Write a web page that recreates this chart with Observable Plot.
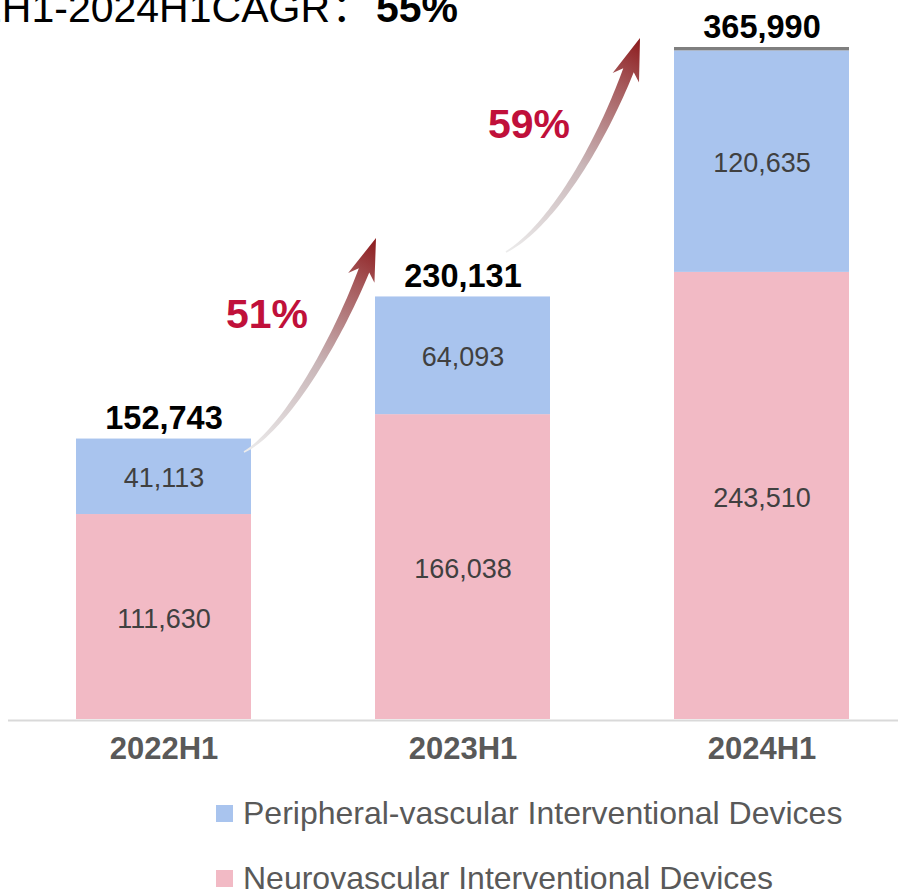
<!DOCTYPE html>
<html><head><meta charset="utf-8">
<script src="https://cdn.jsdelivr.net/npm/d3@7"></script>
<script src="https://cdn.jsdelivr.net/npm/@observablehq/plot@0.6"></script>
<style>
html,body{margin:0;padding:0;background:#fff;overflow:hidden;}
#wrap{position:relative;width:898px;height:894px;overflow:hidden;}
#chart{position:absolute;left:0;top:0;}
.leg{position:absolute;font-family:"Liberation Sans",Arial,sans-serif;font-size:32px;color:#595959;line-height:32px;white-space:nowrap;}
.sw{position:absolute;width:17px;height:17px;}
</style></head><body><div id="wrap"><div id="chart"></div></div>
<script>
// ---- data ----
const categories = ["2022H1", "2023H1", "2024H1"];
const seriesNames = ["Neurovascular Interventional Devices", "Peripheral-vascular Interventional Devices", "Other"];
const neuroValues = [111630, 166038, 243510];
const peripheralValues = [41113, 64093, 120635];
const otherValues = [0, 0, 1845];
const totals = [152743, 230131, 365990];
const growthLabels = ["51%", "59%"];
const cagrText = "2022H1-2024H1CAGR";
const cagrValue = "55%";
const legendOrder = ["Peripheral-vascular Interventional Devices", "Neurovascular Interventional Devices"];

// ---- styles ----
const colors = ["#F2BAC5", "#A9C4EE", "#7F7F7F"];
const font = '"Liberation Sans", Arial, sans-serif';
const fmt = d3.format(",");

const rows = [];
categories.forEach((c, i) => {
  rows.push({category: c, series: seriesNames[0], value: neuroValues[i]});
  rows.push({category: c, series: seriesNames[1], value: peripheralValues[i]});
  rows.push({category: c, series: seriesNames[2], value: otherValues[i]});
});

// arrow geometry (pixel offsets relative to bar corners)
const arrowGeom = [
  {p0: [-7, 13.5], p1: [34, -8.5], p2: [-31, 36.5], p3: [1, -58.5], label: [-109, 90]},
  {p0: [-44, -44.5], p1: [4, -71.5], p2: [-65, 86], p3: [-34, -9], label: [-111, 100]}
];

function decorations(index, scales) {
  const x = scales.x, y = scales.y;
  const bw = x.bandwidth ? x.bandwidth() : 176;
  const g = d3.create("svg:g");
  const defs = g.append("defs");
  arrowGeom.forEach((a, i) => {
    const x0 = x(categories[i]) + bw, y0 = y(totals[i]);
    const x1 = x(categories[i + 1]), y1 = y(totals[i + 1]);
    const P0 = [x0 + a.p0[0], y0 + a.p0[1]];
    const P1 = [x0 + a.p1[0], y0 + a.p1[1]];
    const P2 = [x1 + a.p2[0], y1 + a.p2[1]];
    const P3 = [x1 + a.p3[0], y1 + a.p3[1]];
    const B = t => {
      const u = 1 - t;
      return [u*u*u*P0[0] + 3*u*u*t*P1[0] + 3*u*t*t*P2[0] + t*t*t*P3[0],
              u*u*u*P0[1] + 3*u*u*t*P1[1] + 3*u*t*t*P2[1] + t*t*t*P3[1]];
    };
    const D = t => {
      const u = 1 - t;
      const dx = 3*u*u*(P1[0]-P0[0]) + 6*u*t*(P2[0]-P1[0]) + 3*t*t*(P3[0]-P2[0]);
      const dy = 3*u*u*(P1[1]-P0[1]) + 6*u*t*(P2[1]-P1[1]) + 3*t*t*(P3[1]-P2[1]);
      const l = Math.hypot(dx, dy);
      return [dx / l, dy / l];
    };
    let tEnd = 1;
    for (let t = 1; t > 0; t -= 0.002) {
      const p = B(t);
      if (Math.hypot(p[0] - P3[0], p[1] - P3[1]) >= 34) { tEnd = t; break; }
    }
    const left = [], right = [];
    const N = 50;
    for (let k = 0; k <= N; k++) {
      const t = tEnd * k / N;
      const p = B(t), d = D(t);
      const n = [-d[1], d[0]];
      const w = 0.8 + 4.8 * Math.pow(k / N, 0.9);
      left.push([p[0] + n[0]*w, p[1] + n[1]*w]);
      right.push([p[0] - n[0]*w, p[1] - n[1]*w]);
    }
    const pb = B(tEnd);
    const dd = [P3[0] - pb[0], P3[1] - pb[1]];
    const dl = Math.hypot(dd[0], dd[1]);
    const d = [dd[0]/dl, dd[1]/dl];
    const n = [-d[1], d[0]];
    const barbL = [pb[0] - d[0]*8 + n[0]*14, pb[1] - d[1]*8 + n[1]*14];
    const barbR = [pb[0] - d[0]*8 - n[0]*14, pb[1] - d[1]*8 - n[1]*14];
    const pts = [...left, barbL, P3, barbR, ...right.reverse()];
    const gid = "arrowGrad" + i;
    const lg = defs.append("linearGradient").attr("id", gid)
      .attr("gradientUnits", "userSpaceOnUse")
      .attr("x1", P0[0]).attr("y1", P0[1]).attr("x2", P3[0]).attr("y2", P3[1]);
    lg.append("stop").attr("offset", "0").attr("stop-color", "#ececec");
    lg.append("stop").attr("offset", "0.45").attr("stop-color", "#c9b6b8");
    lg.append("stop").attr("offset", "0.8").attr("stop-color", "#a65a5c");
    lg.append("stop").attr("offset", "1").attr("stop-color", "#8c1a1c");
    g.append("path").attr("d", "M" + pts.map(p => p[0].toFixed(2) + "," + p[1].toFixed(2)).join("L") + "Z")
      .attr("fill", "url(#" + gid + ")");
    g.append("text").attr("x", P3[0] + a.label[0]).attr("y", P3[1] + a.label[1])
      .attr("text-anchor", "middle").attr("font-family", font).attr("font-size", 41)
      .attr("font-weight", "bold").attr("fill", "#C0103A").text(growthLabels[i]);
  });
  // title (partly cut off at the top-left like the reference)
  g.append("text").attr("x", 330).attr("y", 22).attr("text-anchor", "end")
    .attr("font-family", font).attr("font-size", 41).attr("fill", "#000").text(cagrText);
  g.append("text").attr("x", 352).attr("y", 22).attr("text-anchor", "middle")
    .attr("font-family", '"Noto Sans CJK SC", sans-serif').attr("font-size", 41).attr("fill", "#000").text("：");
  g.append("text").attr("x", 376).attr("y", 22).attr("text-anchor", "start")
    .attr("font-family", font).attr("font-size", 41).attr("font-weight", "bold").attr("fill", "#000").text(cagrValue);
  return g.node();
}

const chart = Plot.plot({
  width: 898,
  height: 790,
  marginLeft: 8, marginRight: 0, marginTop: 0, marginBottom: 71,
  style: {fontFamily: font, background: "#fff", overflow: "hidden"},
  x: {domain: categories, range: [13, 913], paddingInner: 0.4133, paddingOuter: 0.2067, axis: null},
  y: {domain: [0, 365990], range: [719, 47], axis: null},
  color: {domain: seriesNames, range: colors},
  marks: [
    Plot.barY(rows, {x: "category", y: "value", fill: "series"}),
    Plot.ruleY([0], {stroke: "#d9d9d9", strokeWidth: 2, dy: 1}),
    Plot.text(rows, Plot.stackY({
      filter: d => d.series !== "Other",
      x: "category", y: "value", z: "series",
      text: d => fmt(d.value), fill: "#404040", fontSize: 27, dy: 2
    })),
    Plot.text(categories, {
      x: d => d, y: (d, i) => totals[i], text: (d, i) => fmt(totals[i]),
      fontWeight: "bold", fontSize: 32.5, fill: "#000", dy: -20
    }),
    Plot.text(categories, {
      x: d => d, frameAnchor: "bottom", text: d => d, dy: 39,
      fontWeight: "bold", fontSize: 31, fill: "#595959"
    }),
    decorations
  ]
});
document.getElementById("chart").appendChild(chart);

// legend
const wrap = document.getElementById("wrap");
const legendTops = [797, 862];
legendOrder.forEach((name, k) => {
  const sw = document.createElement("div");
  sw.className = "sw";
  sw.style.left = "216px";
  sw.style.top = (legendTops[k] + 8) + "px";
  sw.style.background = colors[seriesNames.indexOf(name)];
  wrap.appendChild(sw);
  const t = document.createElement("div");
  t.className = "leg";
  t.style.left = "243px";
  t.style.top = legendTops[k] + "px";
  t.textContent = name;
  wrap.appendChild(t);
});
</script>
</body></html>
